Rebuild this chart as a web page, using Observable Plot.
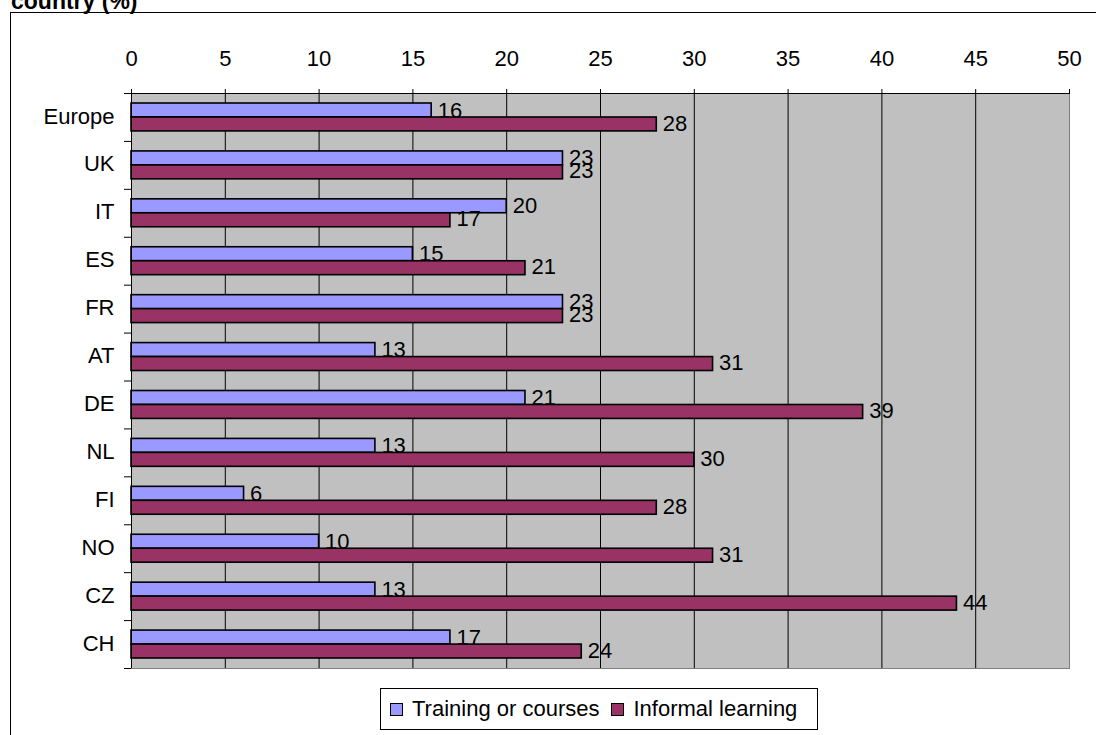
<!DOCTYPE html>
<html>
<head>
<meta charset="utf-8">
<script src="https://cdn.jsdelivr.net/npm/d3@7"></script>
<script src="https://cdn.jsdelivr.net/npm/@observablehq/plot@0.6"></script>
<style>
  html, body { margin: 0; padding: 0; background: #fff; overflow: hidden; }
  body { width: 1096px; height: 735px; position: relative; font-family: "Liberation Sans", Arial, sans-serif; }
  #title { position: absolute; left: 11px; top: -10px; font-weight: bold; font-size: 23px; line-height: 23px; white-space: nowrap; }
  #chart { position: absolute; left: 0; top: 12px; }
  #box { position: absolute; left: 10px; top: 12px; width: 1200px; height: 800px; border: 1px solid #000; pointer-events: none; }
  #legend { position: absolute; left: 380px; top: 688px; width: 436px; height: 40px; border: 1px solid #000; background: #fff;
            display: flex; align-items: center; font-size: 22px; }
  .sw { width: 11px; height: 11px; border: 1px solid #000; margin: 1px 9px 0 9px; }
  .lab { margin-right: 3px; }
</style>
</head>
<body>
<div id="title">country (%)</div>
<div id="chart"></div>
<div id="box"></div>
<div id="legend"></div>
<script>
// Share of respondents by country (%)
const countries = ["Europe", "UK", "IT", "ES", "FR", "AT", "DE", "NL", "FI", "NO", "CZ", "CH"];
const training = [16, 23, 20, 15, 23, 13, 21, 13, 6, 10, 13, 17];
const informal = [28, 23, 17, 21, 23, 31, 39, 30, 28, 31, 44, 24];
const xTicks = [0, 5, 10, 15, 20, 25, 30, 35, 40, 45, 50];
const seriesNames = ["Training or courses", "Informal learning"];
const seriesColors = ["#9999ff", "#993366"];

const rows = countries.map((c, i) => ({country: c, training: training[i], informal: informal[i]}));
const gridTicks = xTicks.filter(t => t > 0 && t < 50);

const W = 1096, H = 660, mL = 131, mR = 27, mT = 81, mB = 4;
const half = (H - mT - mB) / countries.length / 2; // half of one row's band

const chart = Plot.plot({
  width: W,
  height: H,
  marginLeft: mL,
  marginRight: mR,
  marginTop: mT,
  marginBottom: mB,
  style: {background: "none", fontSize: "22px", fontFamily: "'Liberation Sans', Arial, sans-serif", color: "#000"},
  x: {domain: [0, 50]},
  y: {domain: countries, padding: 0, round: false, label: null},
  marks: [
    Plot.frame({fill: "#c0c0c0", stroke: "#808080"}),
    Plot.ruleX(gridTicks, {stroke: "#000", strokeWidth: 1}),
    // training bars and labels
    Plot.barX(rows, {x: "training", y: "country", fill: seriesColors[0], stroke: "#000", strokeWidth: 1.6, insetTop: 10, insetBottom: 24}),
    Plot.text(rows, {x: "training", y: "country", text: d => String(d.training), textAnchor: "start", dx: 6, dy: -7, fill: "#000"}),
    // informal learning bars and labels
    Plot.barX(rows, {x: "informal", y: "country", fill: seriesColors[1], stroke: "#000", strokeWidth: 1.6, insetTop: 24, insetBottom: 10}),
    Plot.text(rows, {x: "informal", y: "country", text: d => String(d.informal), textAnchor: "start", dx: 6, dy: 6, fill: "#000"}),
    // axes
    Plot.ruleX([0], {stroke: "#000"}),
    Plot.ruleY([countries[0]], {dy: -half, stroke: "#000"}),
    Plot.ruleY(countries, {dy: -half, x1: 0, x2: 0, insetLeft: -7, stroke: "#000"}),
    Plot.ruleY([countries[countries.length - 1]], {dy: half, x1: 0, x2: 0, insetLeft: -7, stroke: "#000"}),
    Plot.axisX({anchor: "top", ticks: xTicks, tickSize: 5, tickPadding: 23, tickFormat: d => String(d), label: null}),
    Plot.axisY({anchor: "left", tickSize: 0, tickPadding: 17, dy: -1, label: null})
  ]
});
document.getElementById("chart").appendChild(chart);

// legend
const legend = document.getElementById("legend");
seriesNames.forEach((name, i) => {
  const sw = document.createElement("div");
  sw.className = "sw";
  sw.style.background = seriesColors[i];
  const lab = document.createElement("span");
  lab.className = "lab";
  lab.textContent = name;
  legend.appendChild(sw);
  legend.appendChild(lab);
});
</script>
</body>
</html>
